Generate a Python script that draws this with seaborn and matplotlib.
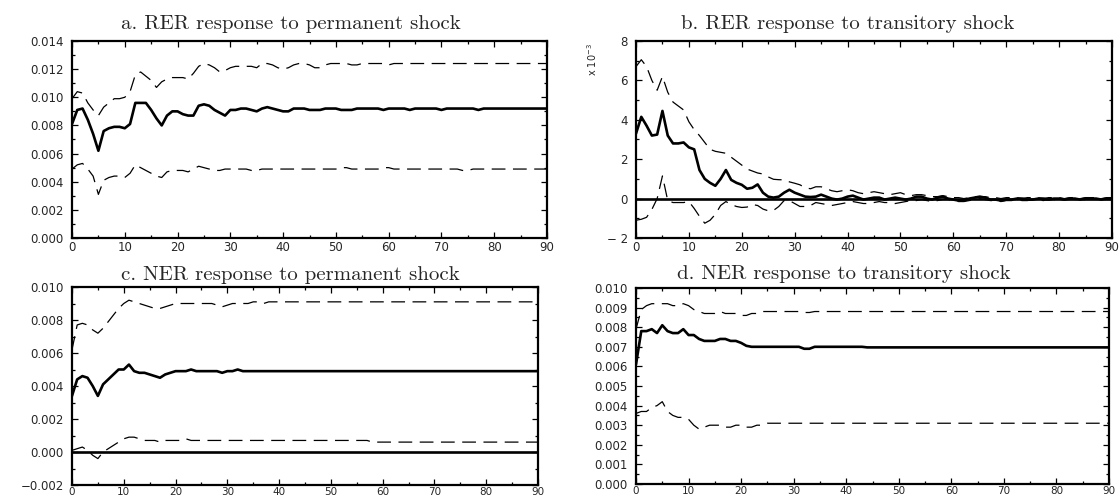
import matplotlib
matplotlib.use("Agg")
import matplotlib.pyplot as plt
import seaborn as sns
import pandas as pd
from matplotlib.ticker import MultipleLocator, FuncFormatter

periods = list(range(91))

# ---- a. RER response to permanent shock ----
a_mid = [.0081, .0091, .0092, .0084, .0074, .0062, .0076, .0078, .0079, .0079,
         .0078, .0081, .0096, .0096, .0096, .0091, .0085, .0080, .0087, .0090,
         .0090, .0088, .0087, .0087, .0094, .0095, .0094, .0091, .0089, .0087,
         .0091, .0091, .0092, .0092, .0091, .0090, .0092, .0093, .0092, .0091,
         .0090, .0090, .0092, .0092, .0092, .0091, .0091, .0091, .0092, .0092,
         .0092, .0091, .0091, .0091, .0092, .0092, .0092, .0092, .0092, .0091,
         .0092, .0092, .0092, .0092, .0091, .0092, .0092, .0092, .0092, .0092,
         .0091, .0092, .0092, .0092, .0092, .0092, .0092, .0091, .0092, .0092,
         .0092, .0092, .0092, .0092, .0092, .0092, .0092, .0092, .0092, .0092,
         .0092]
a_up = [.0099, .0104, .0103, .0096, .0091, .0087, .0093, .0096, .0099, .0099,
        .0100, .0104, .0116, .0118, .0115, .0112, .0107, .0111, .0113, .0114,
        .0114, .0114, .0113, .0117, .0122, .0124, .0123, .0121, .0118, .0119,
        .0121, .0122, .0122, .0122, .0122, .0121, .0124, .0124, .0123, .0121,
        .0120, .0121, .0123, .0124, .0124, .0123, .0121, .0121, .0123, .0124,
        .0124, .0124, .0124, .0123, .0123, .0124, .0124, .0124, .0124, .0124,
        .0123, .0124, .0124, .0124, .0124, .0124, .0124, .0124, .0124, .0124,
        .0124, .0124, .0124, .0124, .0124, .0124, .0124, .0124, .0124, .0124,
        .0124, .0124, .0124, .0124, .0124, .0124, .0124, .0124, .0124, .0124,
        .0124]
a_lo = [.0049, .0052, .0053, .0049, .0044, .0031, .0041, .0043, .0044, .0044,
        .0043, .0046, .0052, .0050, .0048, .0046, .0044, .0043, .0047, .0048,
        .0048, .0048, .0047, .0049, .0051, .0050, .0049, .0048, .0048, .0049,
        .0049, .0049, .0049, .0049, .0048, .0048, .0049, .0049, .0049, .0049,
        .0049, .0049, .0049, .0049, .0049, .0049, .0049, .0049, .0049, .0049,
        .0049, .0050, .0050, .0049, .0049, .0049, .0049, .0049, .0049, .0050,
        .0050, .0049, .0049, .0049, .0049, .0049, .0049, .0049, .0049, .0049,
        .0049, .0049, .0049, .0049, .0048, .0048, .0049, .0049, .0049, .0049,
        .0049, .0049, .0049, .0049, .0049, .0049, .0049, .0049, .0049, .0049,
        .0049]

# ---- b. RER response to transitory shock (x 10^-3) ----
b_mid = [3.3, 4.15, 3.7, 3.2, 3.25, 4.45, 3.2, 2.8, 2.8, 2.85,
         2.6, 2.5, 1.45, 1.0, 0.8, 0.65, 1.0, 1.45, 0.95, 0.8,
         0.7, 0.5, 0.55, 0.72, 0.3, 0.1, 0.05, 0.1, 0.3, 0.45,
         0.3, 0.2, 0.1, 0.08, 0.1, 0.2, 0.1, 0.0, -0.05, 0.0,
         0.1, 0.15, 0.05, -0.05, 0.0, 0.05, 0.05, -0.05, 0.0, 0.05,
         0.0, -0.05, 0.0, 0.1, 0.1, 0.0, -0.05, 0.05, 0.1, 0.0,
         -0.05, -0.1, -0.1, 0.0, 0.05, 0.1, 0.05, -0.05, -0.05, -0.1,
         -0.05, -0.05, 0.0, 0.0, -0.05, -0.05, 0.0, 0.0, -0.05, 0.0,
         0.0, -0.05, 0.0, 0.0, -0.05, 0.0, 0.0, 0.0, -0.05, 0.0,
         0.0]
b_up = [6.7, 7.05, 6.7, 6.0, 5.5, 6.2, 5.4, 4.9, 4.7, 4.5,
        3.9, 3.5, 3.2, 2.85, 2.5, 2.4, 2.35, 2.3, 2.1, 1.9,
        1.7, 1.5, 1.4, 1.3, 1.25, 1.1, 0.98, 0.96, 0.95, 0.85,
        0.78, 0.7, 0.55, 0.5, 0.6, 0.6, 0.5, 0.4, 0.35, 0.4,
        0.45, 0.4, 0.3, 0.25, 0.3, 0.35, 0.3, 0.25, 0.2, 0.25,
        0.3, 0.2, 0.15, 0.2, 0.2, 0.15, 0.1, 0.1, 0.15, 0.1,
        0.05, 0.05, 0.0, 0.05, 0.1, 0.1, 0.1, 0.05, 0.05, 0.0,
        0.05, 0.05, 0.05, 0.0, 0.05, 0.05, 0.05, 0.0, 0.05, 0.05,
        0.05, 0.0, 0.05, 0.05, 0.0, 0.05, 0.05, 0.05, 0.0, 0.05,
        0.05]
b_lo = [-1.1, -1.05, -0.95, -0.55, 0.0, 1.15, -0.1, -0.2, -0.2, -0.2,
        -0.15, -0.5, -0.9, -1.25, -1.1, -0.8, -0.35, -0.15, -0.3, -0.4,
        -0.45, -0.43, -0.3, -0.35, -0.53, -0.62, -0.6, -0.4, -0.1, -0.1,
        -0.25, -0.4, -0.4, -0.35, -0.2, -0.25, -0.3, -0.35, -0.3, -0.25,
        -0.2, -0.15, -0.2, -0.25, -0.25, -0.2, -0.15, -0.2, -0.2, -0.25,
        -0.2, -0.15, -0.1, -0.1, -0.05, -0.1, -0.15, -0.1, -0.05, -0.05,
        -0.1, -0.15, -0.15, -0.1, -0.05, 0.0, -0.05, -0.1, -0.1, -0.15,
        -0.1, -0.1, -0.05, -0.1, -0.1, -0.05, -0.05, -0.1, -0.05, -0.05,
        -0.1, -0.05, -0.05, -0.05, -0.1, -0.05, -0.05, -0.05, -0.05, -0.05,
        -0.05]

# ---- c. NER response to permanent shock ----
c_mid = [.0034, .0044, .0046, .0045, .0040, .0034, .0041, .0044, .0047, .0050,
         .0050, .0053, .0049, .0048, .0048, .0047, .0046, .0045, .0047, .0048,
         .0049, .0049, .0049, .0050, .0049, .0049, .0049, .0049, .0049, .0048,
         .0049, .0049, .0050, .0049, .0049, .0049, .0049, .0049, .0049, .0049,
         .0049, .0049, .0049, .0049, .0049, .0049, .0049, .0049, .0049, .0049,
         .0049, .0049, .0049, .0049, .0049, .0049, .0049, .0049, .0049, .0049,
         .0049, .0049, .0049, .0049, .0049, .0049, .0049, .0049, .0049, .0049,
         .0049, .0049, .0049, .0049, .0049, .0049, .0049, .0049, .0049, .0049,
         .0049, .0049, .0049, .0049, .0049, .0049, .0049, .0049, .0049, .0049,
         .0049]
c_up = [.0062, .0077, .0078, .0077, .0074, .0072, .0075, .0079, .0083, .0087,
        .0090, .0092, .0091, .0090, .0089, .0088, .0087, .0087, .0088, .0089,
        .0090, .0090, .0090, .0090, .0090, .0090, .0090, .0090, .0089, .0088,
        .0089, .0090, .0090, .0090, .0090, .0091, .0091, .0090, .0091, .0091,
        .0091, .0091, .0091, .0091, .0091, .0091, .0091, .0091, .0091, .0091,
        .0091, .0091, .0091, .0091, .0091, .0091, .0091, .0091, .0091, .0091,
        .0091, .0091, .0091, .0091, .0091, .0091, .0091, .0091, .0091, .0091,
        .0091, .0091, .0091, .0091, .0091, .0091, .0091, .0091, .0091, .0091,
        .0091, .0091, .0091, .0091, .0091, .0091, .0091, .0091, .0091, .0091,
        .0091]
c_lo = [.0001, .0002, .0003, .0001, -.0002, -.0004, .0000, .0002, .0004, .0006,
        .0008, .0009, .0009, .0008, .0007, .0007, .0007, .0006, .0007, .0007,
        .0007, .0007, .0008, .0007, .0007, .0007, .0007, .0007, .0007, .0007,
        .0007, .0007, .0007, .0007, .0007, .0007, .0007, .0007, .0007, .0007,
        .0007, .0007, .0007, .0007, .0007, .0007, .0007, .0007, .0007, .0007,
        .0007, .0007, .0007, .0007, .0007, .0007, .0007, .0007, .0006, .0006,
        .0006, .0006, .0006, .0006, .0006, .0006, .0006, .0006, .0006, .0006,
        .0006, .0006, .0006, .0006, .0006, .0006, .0006, .0006, .0006, .0006,
        .0006, .0006, .0006, .0006, .0006, .0006, .0006, .0006, .0006, .0006,
        .0006]

# ---- d. NER response to transitory shock ----
d_mid = [.0061, .0078, .0078, .0079, .0077, .0081, .0078, .0077, .0077, .0079,
         .0076, .0076, .0074, .0073, .0073, .0073, .0074, .0074, .0073, .0073,
         .0072, .00705, .0070, .0070, .0070, .0070, .0070, .0070, .0070, .0070,
         .0070, .0070, .0069, .0069, .0070, .0070, .0070, .0070, .0070, .0070,
         .0070, .0070, .0070, .0070, .00697, .00697, .00697, .00697, .00697, .00697,
         .00697, .00697, .00697, .00697, .00697, .00697, .00697, .00697, .00697, .00697,
         .00697, .00697, .00697, .00697, .00697, .00697, .00697, .00697, .00697, .00697,
         .00697, .00697, .00697, .00697, .00697, .00697, .00697, .00697, .00697, .00697,
         .00697, .00697, .00697, .00697, .00697, .00697, .00697, .00697, .00697, .00697,
         .00697]
d_up = [.0079, .0089, .0091, .0092, .0092, .0092, .0092, .0091, .0091, .0092,
        .0091, .0089, .0088, .0087, .0087, .0087, .0088, .0087, .0087, .0087,
        .0086, .0086, .0087, .0087, .0088, .0088, .0088, .0088, .0088, .0088,
        .0088, .0088, .00875, .00875, .0088, .0088, .0088, .0088, .0088, .0088,
        .0088, .0088, .0088, .0088, .0088, .0088, .0088, .0088, .0088, .0088,
        .0088, .0088, .0088, .0088, .0088, .0088, .0088, .0088, .0088, .0088,
        .0088, .0088, .0088, .0088, .0088, .0088, .0088, .0088, .0088, .0088,
        .0088, .0088, .0088, .0088, .0088, .0088, .0088, .0088, .0088, .0088,
        .0088, .0088, .0088, .0088, .0088, .0088, .0088, .0088, .0088, .0088,
        .0088]
d_lo = [.0036, .0037, .0037, .0039, .0040, .0042, .0037, .0035, .0034, .0034,
        .0033, .0030, .0028, .0029, .0030, .0030, .0030, .0029, .0029, .0030,
        .0030, .0029, .0029, .0030, .0030, .0031, .0031, .0031, .0031, .0031,
        .0031, .0031, .0031, .0031, .0031, .0031, .0031, .0031, .0031, .0031,
        .0031, .0031, .0031, .0031, .0031, .0031, .0031, .0031, .0031, .0031,
        .0031, .0031, .0031, .0031, .0031, .0031, .0031, .0031, .0031, .0031,
        .0031, .0031, .0031, .0031, .0031, .0031, .0031, .0031, .0031, .0031,
        .0031, .0031, .0031, .0031, .0031, .0031, .0031, .0031, .0031, .0031,
        .0031, .0031, .0031, .0031, .0031, .0031, .0031, .0031, .0031, .0031,
        .0031]

titles = ["a. RER response to permanent shock",
          "b. RER response to transitory shock",
          "c. NER response to permanent shock",
          "d. NER response to transitory shock"]

sns.set_style("ticks")
plt.rcParams["font.family"] = ["DejaVu Sans"]

W, H = 1119, 498
fig = plt.figure(figsize=(W / 100, H / 100), dpi=100)


def px_axes(l, r, t, b):
    return fig.add_axes([l / W, 1 - b / H, (r - l) / W, (b - t) / H])


def fmt_dec(v, _):
    s = f"{v:.3f}"
    if s.startswith("-"):
        s = "\u2212" + s[1:]
    if s == "\u22120.000":
        s = "0.000"
    return s


def fmt_int(v, _):
    s = f"{v:.0f}"
    return s.replace("-", "\u2212 ")


panels = [
    dict(box=(72, 547, 41, 238), mid=a_mid, up=a_up, lo=a_lo, ylim=(0, 0.014),
         major=0.002, minor=0.001, fmt=fmt_dec, xl=(8.5, 2.5)),
    dict(box=(636, 1112, 41, 238), mid=b_mid, up=b_up, lo=b_lo, ylim=(-2, 8),
         major=2, minor=1, fmt=fmt_int, xl=(8.5, 2.5)),
    dict(box=(72, 538, 287, 485), mid=c_mid, up=c_up, lo=c_lo, ylim=(-0.002, 0.010),
         major=0.002, minor=0.001, fmt=fmt_dec, xl=(7.5, 1.2)),
    dict(box=(636, 1109, 288, 484), mid=d_mid, up=d_up, lo=d_lo, ylim=(0, 0.010),
         major=0.001, minor=0.0005, fmt=fmt_dec, xl=(7.5, 1.5)),
]

dash = (0, (11, 6))
for p in panels:
    ax = px_axes(*p["box"])
    df = pd.DataFrame({"t": periods, "mid": p["mid"], "up": p["up"], "lo": p["lo"]})
    sns.lineplot(data=df, x="t", y="up", ax=ax, color="black", lw=0.9, linestyle=dash)
    sns.lineplot(data=df, x="t", y="lo", ax=ax, color="black", lw=0.9, linestyle=dash)
    sns.lineplot(data=df, x="t", y="mid", ax=ax, color="black", lw=1.9)
    ax.axhline(0, color="black", lw=1.9, zorder=5)
    ax.set_xlim(0, 90)
    ax.set_ylim(*p["ylim"])
    ax.set_xlabel("")
    ax.set_ylabel("")
    ax.xaxis.set_major_locator(MultipleLocator(10))
    ax.xaxis.set_minor_locator(MultipleLocator(5))
    ax.yaxis.set_major_locator(MultipleLocator(p["major"]))
    ax.yaxis.set_minor_locator(MultipleLocator(p["minor"]))
    ax.yaxis.set_major_formatter(FuncFormatter(p["fmt"]))
    ax.tick_params(which="both", direction="in", top=True, right=True,
                   labeltop=False, labelright=False, color="black", width=0.9)
    ax.tick_params(which="major", length=4)
    ax.tick_params(which="minor", length=2.5)
    ax.tick_params(axis="y", labelsize=8.5, pad=6)
    ax.tick_params(axis="x", labelsize=p["xl"][0], pad=p["xl"][1])
    for s in ax.spines.values():
        s.set_linewidth(1.6)
        s.set_color("black")

title_pos = [(291, 29), (848, 29), (290, 280), (844, 279)]
for t, (x, y) in zip(titles, title_pos):
    fig.text(x / W, 1 - y / H, t, family="cmr10", fontsize=15,
             ha="center", va="baseline")

fig.text(592 / W, 1 - 60 / H, r"x $10^{-3}$", rotation=90, fontsize=7,
         ha="center", va="center")

fig.savefig("out.png", dpi=100)
